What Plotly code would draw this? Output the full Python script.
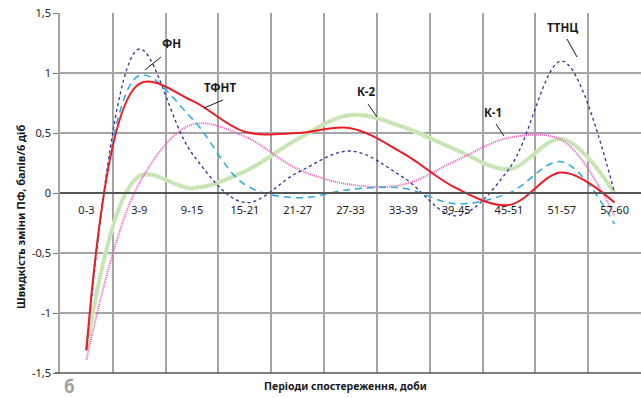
import plotly.graph_objects as go

categories = ["0-3", "3-9", "9-15", "15-21", "21-27", "27-33", "33-39", "39-45", "45-51", "51-57", "57-60"]

ttnc = [-1.31, 1.2, 0.33, -0.08, 0.17, 0.35, 0.13, -0.19, 0.2, 1.1, 0.0]
fn = [-1.31, 0.98, 0.62, 0.07, -0.04, 0.03, 0.04, -0.09, 0.0, 0.26, -0.26]
tfnt = [-1.31, 0.91, 0.77, 0.51, 0.5, 0.54, 0.33, 0.04, -0.1, 0.17, -0.08]
k1 = [-1.39, 0.08, 0.57, 0.47, 0.2, 0.07, 0.07, 0.27, 0.46, 0.44, -0.19]
k2 = [-1.31, 0.14, 0.04, 0.18, 0.45, 0.65, 0.55, 0.36, 0.2, 0.45, 0.0]

y_ticks = [-1.5, -1, -0.5, 0, 0.5, 1, 1.5]
y_ticktext = ["-1,5", "-1", "-0,5", "0", "0,5", "1", "1,5"]

series_labels = ["ТТНЦ", "ФН", "ТФНТ", "К-1", "К-2"]

W, H = 641, 398
L, R, T, B = 60, 641, 13, 373


def px(x):
    return (x - L) / (R - L)


def py(y):
    return (B - y) / (B - T)


FONT = "Noto Sans"
GRID = "#a4a4a4"

fig = go.Figure()

fig.add_trace(go.Scatter(x=categories, y=k2, mode="lines", name="К-2",
                         line=dict(color="#d6ecc6", width=4.5, shape="spline", smoothing=1)))
fig.add_trace(go.Scatter(x=categories, y=k2, mode="lines", name="К-2t", showlegend=False,
                         line=dict(color="#afd794", width=2.5, dash="1px,1.5px", shape="spline", smoothing=1)))
fig.add_trace(go.Scatter(x=categories, y=k1, mode="lines", name="К-1",
                         line=dict(color="#ea5fbd", width=2, dash="1px,1px", shape="spline", smoothing=1)))
fig.add_trace(go.Scatter(x=categories, y=ttnc, mode="lines", name="ТТНЦ",
                         line=dict(color="#2e3192", width=1.3, dash="3px,3px", shape="spline", smoothing=1)))
fig.add_trace(go.Scatter(x=categories, y=fn, mode="lines", name="ФН",
                         line=dict(color="#29abe2", width=1.5, dash="7px,5px", shape="spline", smoothing=1)))
fig.add_trace(go.Scatter(x=categories, y=tfnt, mode="lines", name="ТФНТ",
                         line=dict(color="#ed1c24", width=2, shape="spline", smoothing=1)))

# label text positions and leader lines (pixel coords)
labels = [
    ("ФН", 171, 43, (145, 70, 161, 57)),
    ("ТФНТ", 220, 87, (204, 108, 223, 100)),
    ("К-2", 366, 91, (368, 104, 377, 117)),
    ("К-1", 493, 112, (496, 124, 504, 136)),
    ("ТТНЦ", 562, 28, (567, 39, 577, 57)),
]

annotations = []
shapes = []
for text, tx, ty, (x0, y0, x1, y1) in labels:
    annotations.append(dict(text="<b>" + text + "</b>", x=px(tx), y=py(ty), xref="paper", yref="paper",
                            showarrow=False, font=dict(family=FONT, size=11.5, color="#1a1a1a"),
                            xanchor="center", yanchor="middle"))
    shapes.append(dict(type="line", xref="paper", yref="paper", x0=px(x0), y0=py(y0),
                       x1=px(x1), y1=py(y1), line=dict(color="#1a1a1a", width=1)))

# bottom dark axis line
shapes.append(dict(type="line", xref="paper", yref="paper", x0=px(55), x1=1.0, y0=0, y1=0,
                   line=dict(color="#555555", width=1.5)))

annotations.append(dict(text="<b>Швидкість зміни ПФ, балів/6 діб</b>", x=px(20), y=py(217),
                        xref="paper", yref="paper", showarrow=False, textangle=-90,
                        font=dict(family=FONT, size=11, color="#1a1a1a"),
                        xanchor="center", yanchor="middle"))
annotations.append(dict(text="<b>Періоди спостереження, доби</b>", x=px(345), y=py(386),
                        xref="paper", yref="paper", showarrow=False,
                        font=dict(family=FONT, size=10.5, color="#1a1a1a"),
                        xanchor="center", yanchor="middle"))
annotations.append(dict(text="<b>б</b>", x=px(69), y=py(386),
                        xref="paper", yref="paper", showarrow=False,
                        font=dict(family=FONT, size=17, color="#a0a0a0"),
                        xanchor="center", yanchor="middle"))

fig.update_layout(
    width=W, height=H,
    margin=dict(l=L, r=W - R, t=T, b=H - B, pad=0),
    paper_bgcolor="white", plot_bgcolor="white",
    showlegend=False,
    font=dict(family=FONT, size=11, color="#222222"),
    xaxis=dict(type="category", categoryorder="array", categoryarray=categories,
               range=[-0.5, 10.5], tickson="boundaries", showgrid=True,
               gridcolor=GRID, gridwidth=1.5, anchor="free", position=0.5,
               showline=True, linecolor="#555555", linewidth=1.5, ticks="",
               ticklabelstandoff=7, tickfont=dict(family=FONT, size=11, color="#222222"),
               zeroline=False),
    yaxis=dict(range=[-1.5, 1.5], tickmode="array", tickvals=y_ticks, ticktext=y_ticktext,
               showgrid=True, gridcolor=GRID, gridwidth=1.5, zeroline=False,
               showline=True, linecolor=GRID, linewidth=1.5,
               ticks="outside", ticklen=5, tickcolor="#777777", tickwidth=1,
               tickfont=dict(family=FONT, size=11, color="#222222")),
    annotations=annotations,
    shapes=shapes,
)

fig.write_html("out.html")
